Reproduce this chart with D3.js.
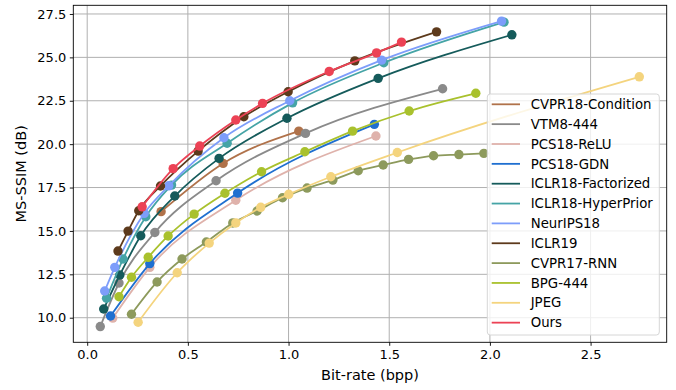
<!DOCTYPE html>
<html>
<head>
<meta charset="utf-8">
<script src="https://cdn.jsdelivr.net/npm/d3@7"></script>
<style>
  body{margin:0;background:#fff;}
  text{font-family:"DejaVu Sans",sans-serif;}
</style>
</head>
<body>
<script>
// series names, in legend order
var names = ['CVPR18-Condition','VTM8-444','PCS18-ReLU','PCS18-GDN','ICLR18-Factorized',
    'ICLR18-HyperPrior','NeurIPS18','ICLR19','CVPR17-RNN','BPG-444','JPEG','Ours'];
var colors = ['#b0724a','#8a8a8a','#dfb2ab','#1f6fd0','#155b5b',
    '#45a4a6','#7d9dfa','#5d3a1c','#8d9a5c','#a9c12d','#f4d47e','#ec4255'];

// bit-rate (bpp) / MS-SSIM (dB)
var cvpr18Bpp  = [0.367, 0.675, 1.051];
var cvpr18Ssim = [16.11, 18.89, 20.75];
var vtmBpp  = [0.065, 0.158, 0.336, 0.640, 1.084, 1.765];
var vtmSsim = [9.49, 12.00, 14.91, 17.89, 20.62, 23.19];
var reluBpp  = [0.127, 0.311, 0.738, 1.434];
var reluSsim = [9.98, 12.90, 16.77, 20.47];
var gdnBpp  = [0.116, 0.311, 0.747, 1.426];
var gdnSsim = [10.10, 13.12, 17.18, 21.14];
var factBpp  = [0.082, 0.162, 0.266, 0.435, 0.655, 0.992, 1.445, 2.109];
var factSsim = [10.50, 12.46, 14.72, 17.01, 19.18, 21.49, 23.79, 26.30];
var hyperBpp  = [0.096, 0.178, 0.291, 0.419, 0.695, 1.020, 1.473, 2.070];
var hyperSsim = [11.12, 13.38, 15.82, 17.64, 20.05, 22.38, 24.69, 27.03];
var neuripsBpp  = [0.087, 0.137, 0.283, 0.405, 0.679, 1.006, 1.462, 2.058];
var neuripsSsim = [11.54, 12.90, 16.01, 17.60, 20.37, 22.50, 24.84, 27.09];
var iclr19Bpp  = [0.153, 0.203, 0.256, 0.364, 0.551, 0.778, 0.998, 1.329, 1.735];
var iclr19Ssim = [13.84, 14.99, 16.16, 17.59, 19.60, 21.58, 23.02, 24.80, 26.47];
var rnnBpp  = [0.220, 0.347, 0.471, 0.592, 0.723, 0.844, 0.970, 1.092, 1.220, 1.346, 1.470, 1.596, 1.720, 1.846, 1.970];
var rnnSsim = [10.20, 12.06, 13.38, 14.36, 15.46, 16.15, 16.91, 17.47, 17.93, 18.47, 18.80, 19.12, 19.33, 19.40, 19.47];
var bpgBpp  = [0.158, 0.220, 0.303, 0.402, 0.531, 0.684, 0.866, 1.081, 1.318, 1.599, 1.930];
var bpgSsim = [11.21, 12.33, 13.48, 14.71, 15.97, 17.17, 18.41, 19.56, 20.75, 21.91, 22.93];
var jpegBpp  = [0.253, 0.447, 0.606, 0.738, 0.862, 1.001, 1.210, 1.540, 2.742];
var jpegSsim = [9.74, 12.59, 14.30, 15.46, 16.36, 17.11, 18.12, 19.52, 23.88];
var oursBpp  = [0.273, 0.427, 0.559, 0.738, 0.871, 1.202, 1.437, 1.561];
var oursSsim = [16.39, 18.59, 19.89, 21.39, 22.35, 24.19, 25.26, 25.88];

var xTicks = [0, 0.5, 1.0, 1.5, 2.0, 2.5];
var yTicks = [10, 12.5, 15, 17.5, 20, 22.5, 25, 27.5];

var allBpp  = [cvpr18Bpp, vtmBpp, reluBpp, gdnBpp, factBpp, hyperBpp, neuripsBpp, iclr19Bpp, rnnBpp, bpgBpp, jpegBpp, oursBpp];
var allSsim = [cvpr18Ssim, vtmSsim, reluSsim, gdnSsim, factSsim, hyperSsim, neuripsSsim, iclr19Ssim, rnnSsim, bpgSsim, jpegSsim, oursSsim];

var series = names.map(function(n,i){
    return {name:n, color:colors[i], pts:allBpp[i].map(function(b,j){ return {x:b, y:allSsim[i][j]}; })};
});

var svgW=676, svgH=390, box={l:73.3, r:666.7, t:5.3, b:342.3};

var x = d3.scaleLinear().domain([-0.069, 2.878]).range([box.l, box.r]);
var y = d3.scaleLinear().domain([8.583, 28.0]).range([box.b, box.t]);

var svg = d3.select("body").append("svg").attr("width", svgW).attr("height", svgH);

// grid
var grid = svg.append('g').attr('stroke','#b0b0b0').attr('stroke-width',1);
grid.selectAll('.gx').data(xTicks).enter().append('line')
    .attr('x1',function(d){ return x(d);}).attr('x2',function(d){ return x(d);})
    .attr('y1',box.t).attr('y2',box.b);
grid.selectAll('.gy').data(yTicks).enter().append('line')
    .attr('x1',box.l).attr('x2',box.r)
    .attr('y1',function(d){ return y(d);}).attr('y2',function(d){ return y(d);});

// axes
var fmt = d3.format('.1f');
var gx = svg.append('g').attr('transform','translate(0,'+box.b+')')
    .call(d3.axisBottom(x).tickValues(xTicks).tickFormat(fmt).tickSize(3.5).tickPadding(3.5));
var gy = svg.append('g').attr('transform','translate('+box.l+',0)')
    .call(d3.axisLeft(y).tickValues(yTicks).tickFormat(fmt).tickSize(3.5).tickPadding(3.5));
[gx,gy].forEach(function(g){
    g.select('.domain').remove();
    g.selectAll('text').style('font-size','13px').attr('fill','#000').style('font-family','DejaVu Sans');
    g.selectAll('line').attr('stroke','#000').attr('stroke-width',0.9);
});

// series
var line = d3.line().x(function(d){ return x(d.x);}).y(function(d){ return y(d.y);}).curve(d3.curveMonotoneX);
var sg = svg.append('g').selectAll('g').data(series).enter().append('g');
sg.append('path').attr('d',function(d){ return line(d.pts);})
    .attr('fill','none').attr('stroke',function(d){ return d.color;}).attr('stroke-width',1.8);
sg.selectAll('circle').data(function(d){ return d.pts.map(function(p){ return {x:p.x, y:p.y, c:d.color};});})
    .enter().append('circle')
    .attr('cx',function(d){ return x(d.x);}).attr('cy',function(d){ return y(d.y);}).attr('r',4.7)
    .attr('fill',function(d){ return d.c;});

// frame
svg.append('rect').attr('x',box.l).attr('y',box.t).attr('width',box.r-box.l).attr('height',box.b-box.t)
    .attr('fill','none').attr('stroke','#000').attr('stroke-width',0.9);

// legend
var lg = svg.append('g');
lg.append('rect').attr('x',487.3).attr('y',94).attr('width',172).attr('height',241).attr('rx',3)
    .attr('fill','#fff').attr('fill-opacity',0.8).attr('stroke','#d6d6d6').attr('stroke-width',1);
var items = lg.selectAll('.item').data(series).enter().append('g')
    .attr('transform',function(d,i){ return 'translate(0,'+(104.3+i*19.85)+')';});
items.append('line').attr('x1',491.7).attr('x2',520).attr('y1',0).attr('y2',0)
    .attr('stroke',function(d){ return d.color;}).attr('stroke-width',1.8);
items.append('text').attr('x',530.7).attr('dy','0.35em').style('font-size','13.3px').text(function(d){ return d.name;});

// axis labels
svg.append('text').attr('x',(box.l+box.r)/2).attr('y',379.5).attr('text-anchor','middle')
    .style('font-size','14.5px').text('Bit-rate (bpp)');
svg.append('text').attr('transform','translate(26,'+((box.t+box.b)/2)+') rotate(-90)').attr('text-anchor','middle')
    .style('font-size','14.5px').text('MS-SSIM (dB)');
</script>
</body>
</html>
